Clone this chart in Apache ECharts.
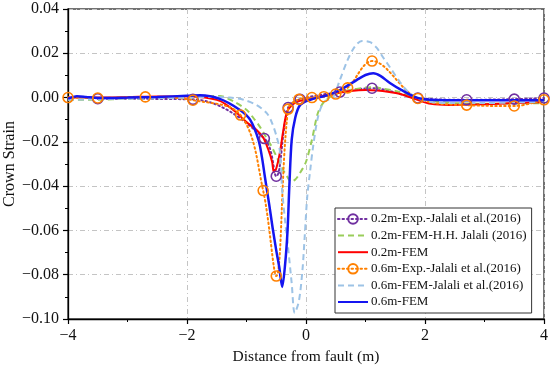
<!DOCTYPE html>
<html><head><meta charset="utf-8">
<script src="https://cdn.jsdelivr.net/npm/echarts@6/dist/echarts.min.js"></script>
<style>html,body{margin:0;padding:0;background:#fff}#c{width:550px;height:368px}</style>
</head><body><div id="c"></div>
<script>
const xTicks = [-4, -2, 0, 2, 4];
const yTicks = [-0.10, -0.08, -0.06, -0.04, -0.02, 0.00, 0.02, 0.04];
const seriesNames = ["0.2m-Exp.-Jalali et al.(2016)", "0.2m-FEM-H.H. Jalali (2016)", "0.2m-FEM",
  "0.6m-Exp.-Jalali et al.(2016)", "0.6m-FEM-Jalali et al.(2016)", "0.6m-FEM"];

const exp02X = [-3.5, -1.9, -0.7, -0.5, -0.3, -0.1, 0.57, 1.11, 1.88, 2.7, 3.5, 4];
const exp02Y = [-0.0005, -0.0008, -0.0185, -0.0355, -0.0045, -0.0008, 0.0025, 0.0042, -0.0002, -0.001, -0.0007, -0.0002];

const femHH02X = [-4, -3.5, -3, -2.5, -2, -1.7, -1.45, -1.2, -1.0, -0.89, -0.78, -0.69, -0.58, -0.49, -0.4, -0.32, -0.25, -0.18, -0.1, 0, 0.1, 0.2, 0.3, 0.45, 0.6, 0.8, 1.0, 1.15, 1.3, 1.5, 1.7, 1.86, 2.1, 2.5, 3, 3.5, 4];
const femHH02Y = [-0.001, -0.001, -0.0005, -0.0003, 0, 0.0005, 0.0007, -0.002, -0.0055, -0.009, -0.013, -0.017, -0.022, -0.027, -0.032, -0.0355, -0.038, -0.037, -0.034, -0.029, -0.019, -0.007, -0.002, 0.001, 0.0025, 0.0037, 0.0045, 0.0047, 0.004, 0.003, 0.0015, 0, -0.0015, -0.0025, -0.0028, -0.0027, -0.0025];

const fem02X = [-4, -3.5, -3, -2.5, -2, -1.7, -1.45, -1.3, -1.16, -1.0, -0.83, -0.72, -0.64, -0.57, -0.54, -0.5, -0.44, -0.38, -0.32, -0.22, -0.1, 0.05, 0.25, 0.5, 0.75, 1.0, 1.2, 1.4, 1.6, 1.85, 2.1, 2.4, 3, 3.5, 4];
const fem02Y = [0, 0, 0.0002, 0.0005, 0.0005, 0, -0.0015, -0.004, -0.007, -0.011, -0.0146, -0.018, -0.023, -0.029, -0.0336, -0.032, -0.025, -0.0146, -0.0066, -0.003, -0.0015, -0.0008, 0.0005, 0.002, 0.003, 0.0034, 0.0032, 0.0025, 0.0015, -0.0008, -0.0028, -0.0033, -0.003, -0.0025, -0.002];

const exp06X = [-4, -3.5, -2.7, -1.9, -1.1, -0.72, -0.5, -0.3, -0.12, 0.1, 0.3, 0.5, 0.7, 1.11, 1.88, 2.7, 3.5, 4];
const exp06Y = [0, -0.0002, 0.0003, -0.0012, -0.0079, -0.042, -0.0806, -0.0052, -0.0008, 0, 0.0004, 0.0016, 0.0044, 0.0165, -0.0004, -0.0034, -0.0038, -0.001];

const femJ06X = [-4, -3.5, -3, -2.5, -2, -1.6, -1.28, -1.05, -0.83, -0.66, -0.57, -0.49, -0.44, -0.4, -0.35, -0.3, -0.24, -0.19, -0.12, -0.06, -0.02, 0.02, 0.07, 0.12, 0.2, 0.3, 0.45, 0.57, 0.7, 0.82, 0.94, 1.08, 1.19, 1.3, 1.44, 1.58, 1.72, 1.86, 2.1, 2.5, 3, 3.5, 4];
const femJ06Y = [-0.001, -0.0007, -0.0005, -0.0003, 0, 0.0003, 0, -0.001, -0.0034, -0.007, -0.0115, -0.018, -0.024, -0.042, -0.056, -0.068, -0.084, -0.0973, -0.092, -0.078, -0.062, -0.045, -0.033, -0.022, -0.009, -0.002, 0, 0.008, 0.017, 0.023, 0.0256, 0.025, 0.0224, 0.018, 0.0125, 0.007, 0.0025, 0, -0.002, -0.0025, -0.0025, -0.0022, -0.002];

const fem06X = [-4, -3.85, -3.7, -3.5, -3, -2.5, -2, -1.78, -1.45, -1.11, -0.94, -0.8, -0.74, -0.69, -0.62, -0.56, -0.5, -0.45, -0.4, -0.35, -0.31, -0.28, -0.24, -0.18, -0.1, 0.07, 0.35, 0.57, 0.85, 1.0, 1.13, 1.25, 1.41, 1.6, 1.86, 2.1, 2.5, 3, 3.5, 4];
const fem06Y = [-0.0005, 0.0006, 0.0003, -0.0002, 0, 0.0003, 0.0008, 0.001, -0.0006, -0.0056, -0.01, -0.019, -0.027, -0.036, -0.048, -0.059, -0.069, -0.0765, -0.0855, -0.075, -0.06, -0.04, -0.019, -0.009, -0.0034, -0.001, 0.001, 0.0034, 0.0079, 0.0102, 0.011, 0.0098, 0.0066, 0.0035, 0, -0.001, -0.0012, -0.0012, -0.0012, -0.0012];

function pairs(xs, ys) { return xs.map((x, i) => [x, ys[i]]); }
const FONT = 'Liberation Serif';
function minus(v, d) { const s = Math.abs(v).toFixed(d); return (v < -1e-9 ? '\u2212' : '') + s; }

const chart = echarts.init(document.getElementById('c'), null, { renderer: 'canvas' });

function expSeries(name, xs, ys, color) {
  return {
    name, type: 'line', data: pairs(xs, ys), smooth: 0.35,
    symbol: 'circle', symbolSize: 10,
    itemStyle: { color: 'rgba(255,255,255,0)', borderColor: color, borderWidth: 1.6 },
    lineStyle: { color, width: 2, type: [1.5, 3], cap: 'round' },
    emphasis: { disabled: true }
  };
}
function femSeries(name, xs, ys, color, width, type) {
  return {
    name, type: 'line', data: pairs(xs, ys), smooth: 0.3, showSymbol: false, symbol: 'none',
    itemStyle: { color },
    lineStyle: { color, width, type },
    emphasis: { disabled: true }
  };
}
const noSym = { color: 'rgba(0,0,0,0)', borderWidth: 0, opacity: 0 };

chart.setOption({
  animation: false,
  backgroundColor: '#fff',
  grid: { left: 68, right: 6, top: 9, bottom: 49, outerBoundsMode: 'none', containLabel: false,
    show: true, borderColor: '#444', borderWidth: 1.5, backgroundColor: 'transparent' },
  legend: {
    orient: 'vertical', left: 335, top: 208,
    padding: [4.5, 5, 4.5, 2], itemGap: 3.6, itemWidth: 30, itemHeight: 12,
    borderColor: '#333', borderWidth: 1, backgroundColor: '#fff',
    textStyle: { fontFamily: FONT, fontSize: 13, lineHeight: 12, color: '#111', padding: [0, 0, 0, -2] },
    data: [
      { name: seriesNames[0] },
      { name: seriesNames[1], itemStyle: noSym },
      { name: seriesNames[2], itemStyle: noSym },
      { name: seriesNames[3] },
      { name: seriesNames[4], itemStyle: noSym },
      { name: seriesNames[5], itemStyle: noSym }
    ]
  },
  xAxis: {
    type: 'value', min: -4, max: 4, interval: 2,
    name: 'Distance from fault (m)', nameLocation: 'middle', nameGap: 30, nameMoveOverlap: false,
    nameTextStyle: { fontFamily: FONT, fontSize: 15.5, color: '#111' },
    axisLine: { show: true, onZero: false, lineStyle: { color: '#000', width: 1.3 } },
    axisTick: { show: true, length: 5, lineStyle: { color: '#000', width: 1.2 } },
    minorTick: { show: true, splitNumber: 2, length: 3, lineStyle: { color: '#000', width: 1 } },
    axisLabel: { fontFamily: FONT, fontSize: 16, color: '#111', margin: 9, formatter: v => minus(v, 0) },
    splitLine: { show: true, lineStyle: { color: '#c4c4c4', width: 1, type: [5, 3, 1, 3] } }
  },
  yAxis: {
    type: 'value', min: -0.10, max: 0.04, interval: 0.02,
    name: 'Crown Strain', nameLocation: 'middle', nameGap: 50, nameMoveOverlap: false,
    nameTextStyle: { fontFamily: FONT, fontSize: 16, color: '#111' },
    axisLine: { show: true, onZero: false, lineStyle: { color: '#000', width: 1.3 } },
    axisTick: { show: true, length: 5, lineStyle: { color: '#000', width: 1.2 } },
    minorTick: { show: true, splitNumber: 2, length: 3, lineStyle: { color: '#000', width: 1 } },
    axisLabel: { fontFamily: FONT, fontSize: 16, color: '#111', margin: 9, formatter: v => minus(v, 2) },
    splitLine: { show: true, lineStyle: { color: '#c4c4c4', width: 1, type: [5, 3, 1, 3] } }
  },
  series: [
    expSeries(seriesNames[0], exp02X, exp02Y, '#7030A0'),
    femSeries(seriesNames[1], femHH02X, femHH02Y, '#9ACD5A', 2, [6, 4]),
    femSeries(seriesNames[2], fem02X, fem02Y, '#FF0000', 2, 'solid'),
    expSeries(seriesNames[3], exp06X, exp06Y, '#FF8000'),
    femSeries(seriesNames[4], femJ06X, femJ06Y, '#9DC3E6', 2, [6, 4]),
    femSeries(seriesNames[5], fem06X, fem06Y, '#1515F0', 2.5, 'solid')
  ]
});
</script></body></html>
